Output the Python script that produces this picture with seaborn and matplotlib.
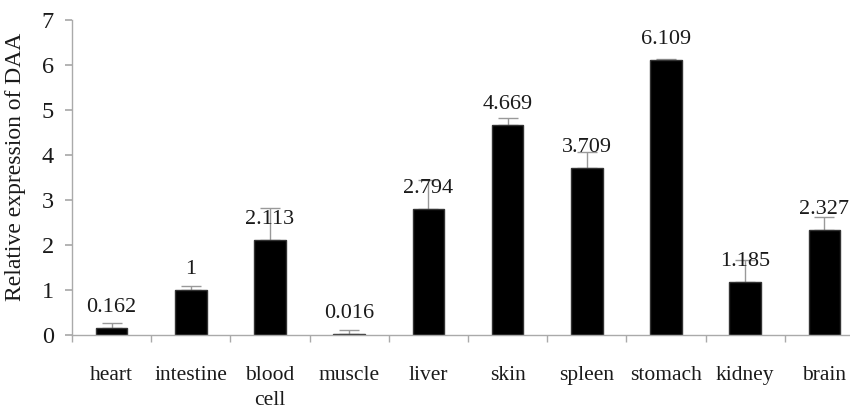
import matplotlib
matplotlib.use("Agg")
import matplotlib.pyplot as plt
import seaborn as sns
import pandas as pd
import numpy as np

categories = ["heart", "intestine", "blood\ncell", "muscle", "liver", "skin", "spleen", "stomach", "kidney", "brain"]
values = [0.162, 1, 2.113, 0.016, 2.794, 4.669, 3.709, 6.109, 1.185, 2.327]
errors = [0.10, 0.09, 0.72, 0.10, 0.66, 0.15, 0.36, 0.02, 0.48, 0.30]
labels = ["0.162", "1", "2.113", "0.016", "2.794", "4.669", "3.709", "6.109", "1.185", "2.327"]

sns.set_theme(style="white")
plt.rcParams['font.family'] = ['Liberation Serif', 'DejaVu Serif']

df = pd.DataFrame({"cat": categories, "val": values})
fig = plt.figure(figsize=(8.5, 4.12), dpi=100)
ax = fig.add_axes([72/850, 1-335/412, (864-72)/850, (335-20)/412])

x = np.arange(len(categories))
ax.errorbar(x, values, yerr=[np.zeros(len(errors)), errors], fmt="none",
            ecolor="#999999", elinewidth=1, capsize=7, capthick=1, clip_on=False, zorder=1)
sns.barplot(data=df, x="cat", y="val", color="black", width=0.4, ax=ax,
            edgecolor="#333333", saturation=1, zorder=2)
for xi, v, lab in zip(x, values, labels):
    ax.annotate(lab, (xi, v), xytext=(0, 11.5), textcoords="offset points",
                ha="center", va="baseline", fontsize=16, color="#1a1a1a",
                annotation_clip=False, zorder=3)

ax.set_ylim(0, 7)
ax.set_xlim(-0.5, 9.5)
ax.set_yticks(range(0, 8))
ax.set_ylabel("Relative expression of DAA", fontsize=17, color="#1a1a1a")
ax.set_xlabel("")
ax.set_xticks(x)
ax.set_xticklabels(categories, fontsize=15.5, color="#1a1a1a", va="top", linespacing=1.45)
ax.tick_params(axis="x", length=0, pad=22)
ax.set_xticks(np.arange(-0.5, 10.0, 1.0), minor=True)
ax.tick_params(axis="x", which="minor", length=5, color="#aaaaaa", direction="out", bottom=True)
ax.tick_params(axis="y", labelsize=17.5, labelcolor="#1a1a1a", length=5, color="#aaaaaa",
               direction="out", left=True, pad=8)
for s in ["top", "right"]:
    ax.spines[s].set_visible(False)
for s in ["left", "bottom"]:
    ax.spines[s].set_color("#aaaaaa")
    ax.spines[s].set_linewidth(1)
ax.yaxis.set_label_coords(-0.058, 0.533)

fig.savefig("out.png", dpi=100)
